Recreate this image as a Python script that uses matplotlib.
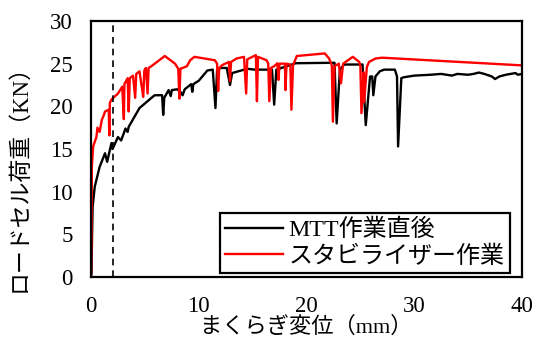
import matplotlib
matplotlib.use("Agg")
import matplotlib.pyplot as plt

# MTT作業直後 (black)
mtt_x = [0.00, 0.05, 0.10, 0.15, 0.35, 0.8, 1.3, 1.5, 1.9, 2.0, 2.5, 2.8, 3.2, 3.4, 3.5, 4.5, 5.9, 6.6, 6.7, 6.8,
         7.2, 7.4, 7.5, 8.0, 8.3, 8.5, 8.7, 9.3, 9.4, 9.5, 10.0, 10.8, 11.3, 11.55, 11.7, 12.0, 12.6, 12.9, 13.1,
         14.5, 15.2, 16.8, 17.0, 17.2, 19.0, 22.1, 22.6, 22.8, 23.1, 23.5, 25.2, 25.5, 25.9, 26.1, 26.2, 26.4,
         26.8, 27.2, 28.2, 28.4, 28.5, 28.8, 29.0, 30.0, 31.5, 32.5, 33.5, 34.0, 35.0, 35.5, 36.0, 36.5, 37.2,
         37.5, 37.9, 38.5, 39.4, 39.6, 40.0]
mtt_y = [0, 0.5, 5, 8.2, 10.6, 12.9, 14.5, 13.5, 15.7, 15.0, 16.4, 16.0, 17.4, 17.0, 17.6, 19.8, 21.3, 21.3, 19.0, 21.0,
         21.9, 21.2, 21.9, 22.0, 21.7, 21.3, 22.0, 22.6, 21.7, 22.6, 23.0, 24.2, 24.3, 19.8, 24.2, 24.5, 24.5, 22.5, 23.9,
         24.4, 24.3, 24.3, 20.2, 24.3, 25.05, 25.1, 25.1, 18.0, 24.3, 24.9, 24.9, 17.8, 23.5, 23.5, 21.3, 23.5,
         24.1, 24.3, 24.3, 23.5, 15.3, 23.3, 23.4, 23.6, 23.7, 23.8, 23.6, 23.8, 23.7, 23.8, 23.96, 23.8, 23.5,
         23.2, 23.5, 23.7, 23.9, 23.7, 23.8]

# スタビライザー作業 (red)
stb_x = [0.00, 0.05, 0.08, 0.2, 0.5, 0.6, 0.8, 1.0, 1.2, 1.3, 1.65, 1.7, 1.75, 1.9, 2.5, 2.9, 3.05, 3.1, 3.4, 3.5,
         3.6, 3.9, 4.1, 4.2, 4.5, 4.85, 4.95, 5.1, 5.25, 5.35, 5.6, 6.85, 7.8, 8.1, 8.2, 8.3, 8.9, 9.2, 9.6, 11.5,
         11.7, 11.8, 11.9, 12.2, 12.8, 12.9, 13.0, 13.5, 14.2, 14.4, 14.5, 15.3, 15.4, 15.5, 16.3, 16.45, 16.55,
         16.7, 17.0, 17.3, 17.4, 17.5, 18.0, 18.05, 18.15, 18.5, 18.6, 18.75, 19.1, 21.7, 22.1, 22.35, 22.45,
         22.6, 23.0, 23.2, 23.4, 24.3, 24.9, 25.0, 25.1, 25.3, 25.35, 25.6, 25.8, 26.4, 27.0, 40.0]
stb_y = [0, 5, 12.9, 15.3, 16.4, 17.5, 17.0, 18.4, 19.0, 19.4, 19.6, 16.6, 20.4, 20.8, 21.5, 22.3, 18.5, 22.6, 23.3, 19.4,
         23.3, 23.6, 21.0, 23.8, 24.1, 21.1, 24.2, 24.5, 21.5, 24.5, 24.7, 25.9, 25.0, 24.4, 20.9, 24.4, 24.7, 25.4, 25.8, 25.4,
         25.0, 21.8, 24.5, 24.85, 25.2, 23.0, 25.2, 25.6, 25.8, 21.5, 25.5, 26.0, 20.6, 25.8, 25.4, 25.0, 20.6,
         24.5, 24.7, 25.05, 23.1, 25.0, 25.0, 21.9, 25.0, 24.9, 19.6, 24.8, 25.9, 26.2, 25.6, 24.8, 18.2,
         24.7, 25.0, 22.7, 25.0, 25.8, 25.2, 24.7, 19.2, 24.0, 20.5, 24.6, 25.2, 25.6, 25.7, 24.8]

dash_x = 2.0
x_ticks = [0, 10, 20, 30, 40]
y_ticks = [0, 5, 10, 15, 20, 25, 30]
label_mtt = "MTT作業直後"
label_stb = "スタビライザー作業"
xlabel = "まくらぎ変位（mm）"
ylabel = "ロードセル荷重（KN）"

serif_cjk = ["Liberation Serif", "Noto Sans CJK JP"]
plt.rcParams["font.family"] = serif_cjk

fig = plt.figure(figsize=(5.43, 3.38), dpi=100)
ax = fig.add_axes([91/543, 1-277/338, (522-91)/543, (277-21)/338])

ax.plot(mtt_x, mtt_y, color="black", lw=1.7, label=label_mtt, solid_joinstyle="round")
ax.plot(stb_x, stb_y, color="#ff0000", lw=1.7, label=label_stb, solid_joinstyle="round")
ax.axvline(dash_x, color="black", lw=1.2, ls=(0, (4, 3)))

ax.set_xlim(0, 40)
ax.set_ylim(0, 30)
ax.set_xticks(x_ticks)
ax.set_yticks(y_ticks)
ax.tick_params(length=0, labelsize=16.5)
ax.tick_params(axis="x", pad=14)
ax.tick_params(axis="y", pad=13)
for s in ax.spines.values():
    s.set_linewidth(1.6)
    s.set_color("black")

leg = ax.legend(loc="lower right", bbox_to_anchor=(0.972, 0.016), borderaxespad=0,
                fancybox=False, framealpha=1, edgecolor="black",
                handlelength=2.4, handletextpad=0.25, borderpad=0.22, labelspacing=0.18,
                prop={"family": serif_cjk, "size": 17.3})
leg.get_frame().set_linewidth(1.6)

fig.text(306/543, 1-327.5/338, xlabel, ha="center", va="center", fontsize=16, family=serif_cjk)
fig.text(20/543, 1-173/338, ylabel, ha="center", va="center", rotation=90, fontsize=16.5, family=serif_cjk)

fig.savefig("out.png", dpi=100)
